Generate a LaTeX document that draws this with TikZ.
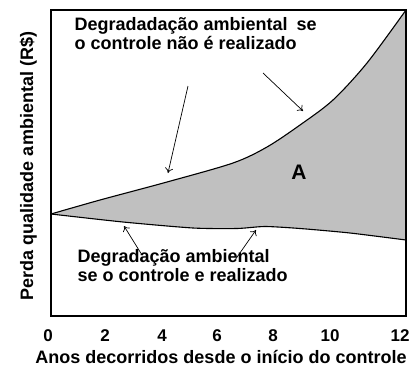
\documentclass[tikz,border=0pt]{standalone}
\usepackage{fontspec}
\setmainfont{Liberation Sans}
\usetikzlibrary{
	arrows.meta,
	positioning,
}
\definecolor{areagray}{RGB}{192,192,192}
\tikzset{note/.style={
		% The text:
		font=\bfseries\fontsize{18}{19}\selectfont,
		align=left,
		% The border:
		inner sep=0pt,
}}
\tikzset{ticklabel/.style={
		font=\bfseries\fontsize{17}{18}\selectfont,
		inner sep=0pt,
		anchor=base,
}}

\begin{document}
\begin{tikzpicture}[
	x=1pt,y=-1pt,
	>= {To[length=5pt,width=8pt]},
	text=black,
	line width=1.1pt
	]
	\useasboundingbox (0,0) rectangle (409,367);
	
	%% area between the curves
	\fill[areagray] plot[smooth,tension=0.5] coordinates {(51,214) (100,200) (167,182) (233,163) (267,147) (300,125) (333,100) (367,63) (406,10)}
		-- plot[smooth,tension=0.4] coordinates {(406,240) (350,233) (300,228.5) (265,226.5) (237,228.5) (193,228) (123,222) (51,214)} -- cycle;
	
	%% curves
	\draw plot[smooth,tension=0.5] coordinates {(51,214) (100,200) (167,182) (233,163) (267,147) (300,125) (333,100) (367,63) (406,10)};
	\draw plot[smooth,tension=0.4] coordinates {(51,214) (123,222) (193,228) (237,228.5) (265,226.5) (300,228.5) (350,233) (406,240)};
	
	%% frame
	\draw (51,10) rectangle (406,316);
	
	%% texts
	\node (upper)[note,anchor=base west] at (74,49) {Degradadação ambiental\hspace{9pt}se\\o controle não é realizado};
	\node (lower)[note,anchor=base west] at (77,281) {Degradação ambiental\\se o controle e realizado};
	\node (areaA)[note,anchor=base,font=\bfseries\fontsize{21}{22}\selectfont] at (299,179) {A};
	
	%% axis
	\node (t0)[ticklabel] at (48,341) {0};
	\node (t2)[ticklabel] at (105,341) {2};
	\node (t4)[ticklabel] at (162,341) {4};
	\node (t6)[ticklabel] at (217,341) {6};
	\node (t8)[ticklabel] at (273,341) {8};
	\node (t10)[ticklabel] at (330,341) {10};
	\node (t12)[ticklabel] at (400,341) {12};
	\node (xtitle)[note,anchor=base] at (221,363) {Anos decorridos desde o início do controle};
	\node (ytitle)[note,anchor=base,rotate=90] at (33,166) {Perda qualidade ambiental (R\$)};
	
	%% arrow ends
	\coordinate (s1) at (188,86);
	\coordinate (e1) at (168,173);
	\coordinate (s2) at (263,73);
	\coordinate (e2) at (303,111);
	\coordinate (s3) at (142,255);
	\coordinate (e3) at (124,226);
	\coordinate (s4) at (235,260);
	\coordinate (e4) at (256,230);
	
	%% arrows
	\draw[->,line width=0.7pt] (s1) to (e1);
	\draw[->,line width=0.7pt] (s2) to (e2);
	\draw[->,line width=0.7pt] (s3) to (e3);
	\draw[->,line width=0.7pt] (s4) to (e4);
	
\end{tikzpicture}
\end{document}
